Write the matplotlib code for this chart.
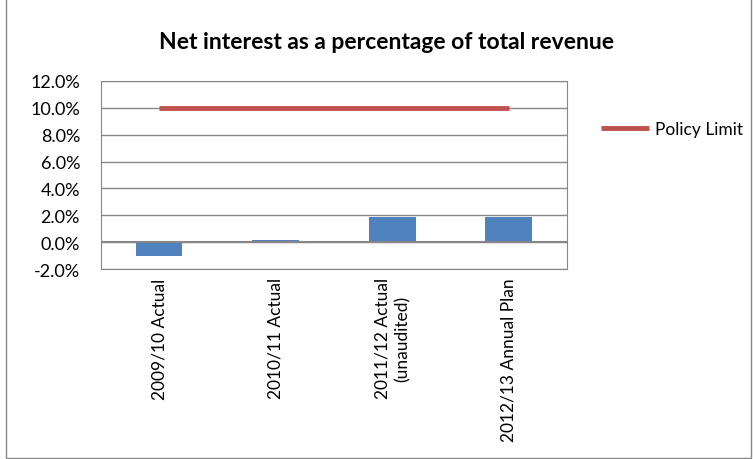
import matplotlib.pyplot as plt
import matplotlib.patches as mpatches

plt.rcParams['font.family'] = ['Lato', 'DejaVu Sans']

categories = ["2009/10 Actual", "2010/11 Actual", "2011/12 Actual\n(unaudited)", "2012/13 Annual Plan"]
net_interest = [-1.0, 0.15, 1.9, 1.9]
policy_limit = [10.0, 10.0, 10.0, 10.0]

fig = plt.figure(figsize=(7.53, 4.60), dpi=100)
ax = fig.add_axes([0.134, 0.413, 0.619, 0.409])

x = list(range(len(categories)))
ax.bar(x, net_interest, width=0.4, color="#4f81bd", zorder=3)
ax.plot(x, policy_limit, color="#c0504d", linewidth=3.5, label="Policy Limit",
        solid_capstyle="butt", zorder=4)

ax.set_xlim(-0.5, len(categories) - 0.5)
ax.set_ylim(-2, 12)
ax.set_yticks(range(-2, 13, 2))
ax.set_yticklabels([f"{v:.1f}%" for v in range(-2, 13, 2)], fontsize=13)
ax.yaxis.grid(True, color="#878787", linewidth=1)
ax.axhline(0, color="#878787", linewidth=1.5, zorder=3)
ax.set_xticks(x)
ax.set_xticklabels(categories, rotation=90, fontsize=12.5, ha="center", va="top",
                   multialignment="center", linespacing=1.3)
ax.tick_params(axis="y", length=0, pad=15)
ax.tick_params(axis="x", length=0, pad=6)
for s in ax.spines.values():
    s.set_color("#878787")

fig.text(0.513, 0.908, "Net interest as a percentage of total revenue", fontsize=16.5,
         fontweight="bold", ha="center", va="center")

fig.legend(handles=ax.get_lines()[:1], loc="center left", bbox_to_anchor=(0.777, 0.717),
           frameon=False, fontsize=12.5, handlelength=2.8, handletextpad=0.3)

fig.patches.append(mpatches.Rectangle((0.008, 0.003), 0.99, 1.1, transform=fig.transFigure,
                                      fill=False, edgecolor="#878787", linewidth=1))

fig.savefig("out.png", dpi=100)
